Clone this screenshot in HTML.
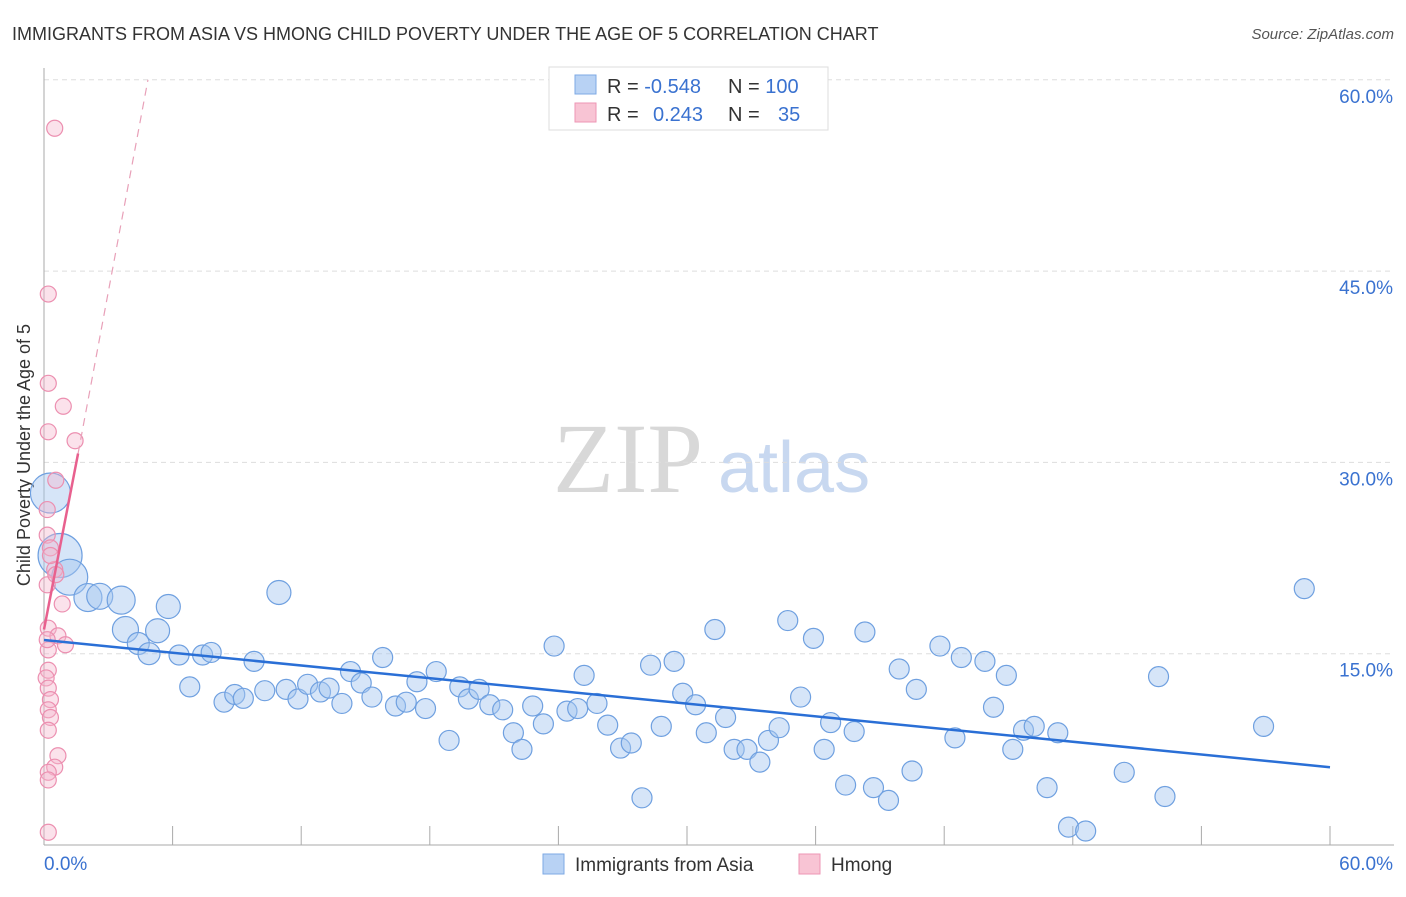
<!DOCTYPE html>
<html><head><meta charset="utf-8"><style>
body{margin:0;background:#fff;font-family:"Liberation Sans",sans-serif;}
</style></head><body>
<svg id="c" width="1406" height="892" xmlns="http://www.w3.org/2000/svg" font-family="Liberation Sans, sans-serif">
<text x="12" y="40" font-size="18" fill="#333">IMMIGRANTS FROM ASIA VS HMONG CHILD POVERTY UNDER THE AGE OF 5 CORRELATION CHART</text>
<text x="1394" y="39" font-size="15" fill="#555" text-anchor="end" font-style="italic">Source: ZipAtlas.com</text>
<text x="30" y="455" font-size="18" fill="#333" text-anchor="middle" transform="rotate(-90 30 455)">Child Poverty Under the Age of 5</text>
<text x="553" y="492" font-size="100" fill="#d8d8d8" style="font-family:'Liberation Serif',serif">ZIP</text>
<text x="718" y="492" font-size="72" fill="#c8d8f0">atlas</text>
<g id="grid"></g><g id="pts"></g><g id="lines"></g>
<g>
<rect x="549" y="67" width="279" height="63" fill="#fff" stroke="#ddd"/>
<rect x="575" y="75" width="21" height="19" fill="#b8d2f4" stroke="#7ea9e4"/>
<rect x="575" y="103" width="21" height="19" fill="#f8c4d4" stroke="#ee96b4"/>
<text x="607" y="93" font-size="20" fill="#333">R = <tspan fill="#3a72d0">-0.548</tspan></text>
<text x="728" y="93" font-size="20" fill="#333">N = <tspan fill="#3a72d0">100</tspan></text>
<text x="607" y="121" font-size="20" fill="#333">R = <tspan fill="#3a72d0" x="653">0.243</tspan></text>
<text x="728" y="121" font-size="20" fill="#333">N = <tspan fill="#3a72d0" x="778">35</tspan></text>
</g>
<g>
<rect x="543" y="854" width="21" height="20" fill="#b8d2f4" stroke="#7ea9e4"/>
<text x="575" y="871" font-size="19" fill="#333">Immigrants from Asia</text>
<rect x="799" y="854" width="21" height="20" fill="#f8c4d4" stroke="#ee96b4"/>
<text x="831" y="871" font-size="19" fill="#333">Hmong</text>
</g>
</svg>
<script>
const yTicks=[15,30,45,60];
const xTickLabels=["0.0%","60.0%"];
const blueX=[0.3,0.75,1.2,2.05,2.6,3.6,3.8,4.4,4.9,5.3,5.8,6.3,6.8,7.4,7.8,8.4,8.9,9.3,9.8,10.3,10.96,11.3,11.85,12.3,12.9,13.3,13.9,14.3,14.8,15.3,15.8,16.4,16.9,17.4,17.8,18.3,18.9,19.4,19.8,20.3,20.8,21.4,21.9,22.3,22.8,23.3,23.8,24.4,24.9,25.2,25.8,26.3,26.9,27.4,27.9,28.3,28.8,29.4,29.8,30.4,30.9,31.3,31.8,32.2,32.8,33.4,33.8,34.3,34.7,35.3,35.9,36.4,36.7,37.4,37.8,38.3,38.7,39.4,39.9,40.5,40.7,41.8,42.5,42.8,43.9,44.3,44.9,45.2,45.7,46.2,46.8,47.3,47.8,48.6,50.4,52.0,52.3,56.9,58.8];
const blueY=[27.6,22.7,21.0,19.4,19.5,19.2,16.9,15.8,15.0,16.8,18.7,14.9,12.4,14.9,15.1,11.2,11.8,11.5,14.4,12.1,19.8,12.2,11.45,12.6,12.0,12.3,11.1,13.6,12.7,11.6,14.7,10.9,11.2,12.8,10.7,13.6,8.2,12.4,11.45,12.2,11.0,10.6,8.8,7.5,10.9,9.5,15.6,10.5,10.7,13.3,11.1,9.4,7.6,8.0,3.7,14.1,9.3,14.4,11.9,11.0,8.8,16.9,10.0,7.5,7.5,6.5,8.2,9.2,17.6,11.6,16.2,7.5,9.6,4.7,8.9,16.7,4.5,3.5,13.8,5.8,12.2,15.6,8.4,14.7,14.4,10.8,13.3,7.5,9.0,9.3,4.5,8.8,1.4,1.1,5.7,13.2,3.8,9.3,20.1];
const blueR=[20,22,18,14,13,14,13,11,11,12,12,10,10,10,10,10,10,10,10,10,12];
const pinkX=[0.5,0.2,0.2,0.9,0.2,1.45,0.55,0.15,0.15,0.3,0.5,0.15,0.85,0.2,0.65,1.0,0.2,0.2,0.1,0.2,0.3,0.2,0.3,0.2,0.65,0.5,0.2,0.2,0.2,0.15,0.3,0.55];
const pinkY=[56.2,43.2,36.2,34.4,32.4,31.7,28.6,26.3,24.3,23.3,21.6,20.4,18.9,17.0,16.4,15.7,15.3,13.7,13.1,12.3,11.4,10.6,10.0,9.0,7.0,6.1,5.7,5.1,1.0,16.1,22.7,21.2];
const blueTrend=[[0,16.07],[60,6.1]];
const pinkTrend=[[0,16.9],[1.59,30.7]];
const pinkDash=[[1.59,30.7],[4.85,60]];
const X=v=>44+v/60*1286, Y=v=>845-v/15*191.3;
const NS="http://www.w3.org/2000/svg";
function mk(t,a,p){const e=document.createElementNS(NS,t);for(const k in a)e.setAttribute(k,a[k]);p.appendChild(e);return e;}
const g=document.getElementById('grid'),P=document.getElementById('pts'),L=document.getElementById('lines');
yTicks.forEach(t=>{const l=mk('line',{x1:44,x2:1394,y1:Y(t),y2:Y(t),stroke:'#ddd','stroke-dasharray':'5,4'},g);


const tx=mk('text',{x:1393,y:Y(t)+23,'font-size':19,fill:'#3a72d0','text-anchor':'end'},g);tx.textContent=t.toFixed(1)+'%';

});
mk('line',{x1:44,x2:44,y1:68,y2:845,stroke:'#aaa'},g);
mk('line',{x1:44,x2:1394,y1:845,y2:845,stroke:'#aaa'},g);
for(let i=1;i<=10;i++){const t=mk('line',{x1:X(i*6),x2:X(i*6),y1:826,y2:845,stroke:'#aaa'},g);

}
const a=mk('text',{x:44,y:870,'font-size':19,fill:'#3a72d0'},g);a.textContent=xTickLabels[0];


const b=mk('text',{x:1393,y:870,'font-size':19,fill:'#3a72d0','text-anchor':'end'},g);b.textContent=xTickLabels[1];


blueX.forEach((v,i)=>{const c=mk('circle',{cx:X(v),cy:Y(blueY[i]),r:blueR[i]||10,fill:'rgba(164,198,240,0.45)',stroke:'#6fa0e0','stroke-width':1.2},P);

});
pinkX.forEach((v,i)=>{const c=mk('circle',{cx:X(v),cy:Y(pinkY[i]),r:8,fill:'rgba(246,182,204,0.4)',stroke:'#ec8fb0','stroke-width':1.2},P);

});
const bl=mk('line',{x1:X(blueTrend[0][0]),y1:Y(blueTrend[0][1]),x2:X(blueTrend[1][0]),y2:Y(blueTrend[1][1]),stroke:'#2a6fd6','stroke-width':2.5},L);


const pl=mk('line',{x1:X(pinkTrend[0][0]),y1:Y(pinkTrend[0][1]),x2:X(pinkTrend[1][0]),y2:Y(pinkTrend[1][1]),stroke:'#e8608e','stroke-width':2.5},L);


const pd=mk('line',{x1:X(pinkDash[0][0]),y1:Y(pinkDash[0][1]),x2:X(pinkDash[1][0]),y2:Y(pinkDash[1][1]),stroke:'#e8a0b8','stroke-width':1.2,'stroke-dasharray':'8,6'},L);


</script>
</body></html>
